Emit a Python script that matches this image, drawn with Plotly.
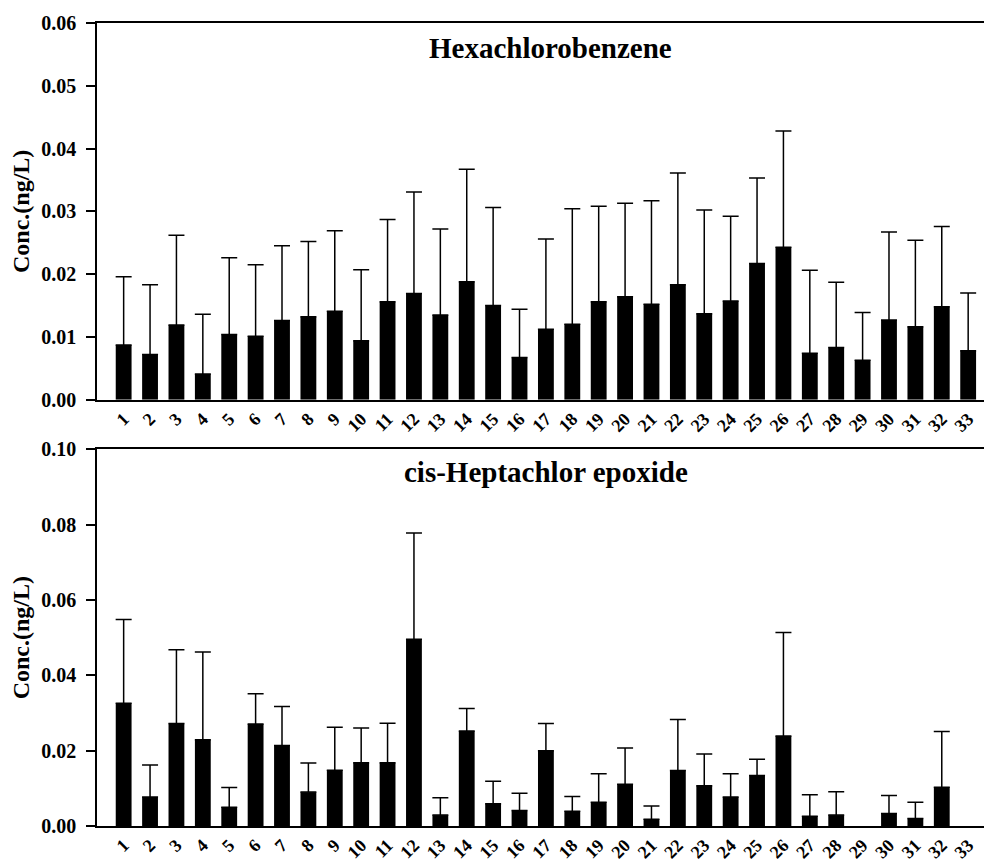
import plotly.graph_objects as go
from plotly.subplots import make_subplots

sites = [str(i) for i in range(1, 34)]

hcb_mean = [0.0087, 0.0072, 0.0119, 0.0041, 0.0104, 0.0101, 0.0126, 0.0132, 0.0141, 0.0094,
            0.0156, 0.0169, 0.0135, 0.0188, 0.0150, 0.0067, 0.0112, 0.0120, 0.0156, 0.0164,
            0.0152, 0.0183, 0.0137, 0.0157, 0.0217, 0.0243, 0.0074, 0.0083, 0.0063, 0.0127,
            0.0116, 0.0148, 0.0078]
hcb_sd = [0.0109, 0.0111, 0.0143, 0.0095, 0.0122, 0.0114, 0.0119, 0.0120, 0.0128, 0.0113,
          0.0131, 0.0162, 0.0137, 0.0179, 0.0156, 0.0077, 0.0144, 0.0184, 0.0152, 0.0149,
          0.0165, 0.0178, 0.0165, 0.0135, 0.0136, 0.0185, 0.0132, 0.0104, 0.0076, 0.0140,
          0.0138, 0.0128, 0.0092]

hep_mean = [0.0326, 0.0077, 0.0272, 0.0229, 0.0050, 0.0271, 0.0214, 0.0090, 0.0148, 0.0168,
            0.0168, 0.0496, 0.0029, 0.0252, 0.0059, 0.0041, 0.0200, 0.0039, 0.0063, 0.0111,
            0.0018, 0.0147, 0.0107, 0.0077, 0.0134, 0.0239, 0.0026, 0.0029, None, 0.0033,
            0.0020, 0.0103, None]
hep_sd = [0.0222, 0.0085, 0.0196, 0.0233, 0.0052, 0.0080, 0.0103, 0.0077, 0.0114, 0.0092,
          0.0105, 0.0282, 0.0046, 0.0060, 0.0060, 0.0046, 0.0072, 0.0039, 0.0076, 0.0096,
          0.0035, 0.0136, 0.0084, 0.0062, 0.0043, 0.0275, 0.0057, 0.0062, None, 0.0048,
          0.0043, 0.0148, None]

titles = ["Hexachlorobenzene", "cis-Heptachlor epoxide"]
y_ranges = [[0, 0.06], [0, 0.10]]
y_dticks = [0.01, 0.02]

FONT = "Liberation Serif"

fig = make_subplots(rows=2, cols=1, vertical_spacing=0.0618)

for r, (m, s) in enumerate([(hcb_mean, hcb_sd), (hep_mean, hep_sd)], start=1):
    fig.add_trace(go.Bar(
        x=sites, y=m, width=0.6,
        marker=dict(color="black", line=dict(width=0)),
        error_y=dict(type="data", array=s, arrayminus=[0] * len(s), symmetric=False,
                     color="black", thickness=1.5, width=8),
        showlegend=False,
    ), row=r, col=1)

for r in (1, 2):
    fig.update_xaxes(type="category", range=[-1.01, 32.6], showline=True, linecolor="black",
                     linewidth=1.5, mirror=True, ticks="", tickangle=-45,
                     tickfont=dict(family=FONT, size=18, color="black", weight="bold"),
                     showgrid=False, zeroline=False, row=r, col=1)
    fig.update_yaxes(range=y_ranges[r - 1], dtick=y_dticks[r - 1], tickformat=".2f",
                     showline=True, linecolor="black", linewidth=1.5, ticks="outside",
                     ticklen=9, tickwidth=1.5, tickcolor="black", ticklabelstandoff=6,
                     tickfont=dict(family=FONT, size=20, color="black", weight="bold"),
                     showgrid=False, zeroline=False,
                     title=dict(text="Conc.(ng/L)", standoff=5,
                                font=dict(family=FONT, size=24, color="black", weight="bold")),
                     row=r, col=1)

fig.add_annotation(text=titles[0], xref="paper", yref="paper", x=0.511, y=0.969,
                   xanchor="center", yanchor="middle", showarrow=False,
                   font=dict(family=FONT, size=29, color="black", weight="bold"))
fig.add_annotation(text=titles[1], xref="paper", yref="paper", x=0.506, y=0.441,
                   xanchor="center", yanchor="middle", showarrow=False,
                   font=dict(family=FONT, size=29, color="black", weight="bold"))

fig.update_layout(width=984, height=862, margin=dict(l=97, r=0, t=23, b=29),
                  plot_bgcolor="white", paper_bgcolor="white", bargap=0.4,
                  hovermode=False)

# remove the default page margin so the figure sits at the window's top-left corner
fig.write_html("out.html", config={"displayModeBar": False},
               post_script="document.body.style.margin='0';")
